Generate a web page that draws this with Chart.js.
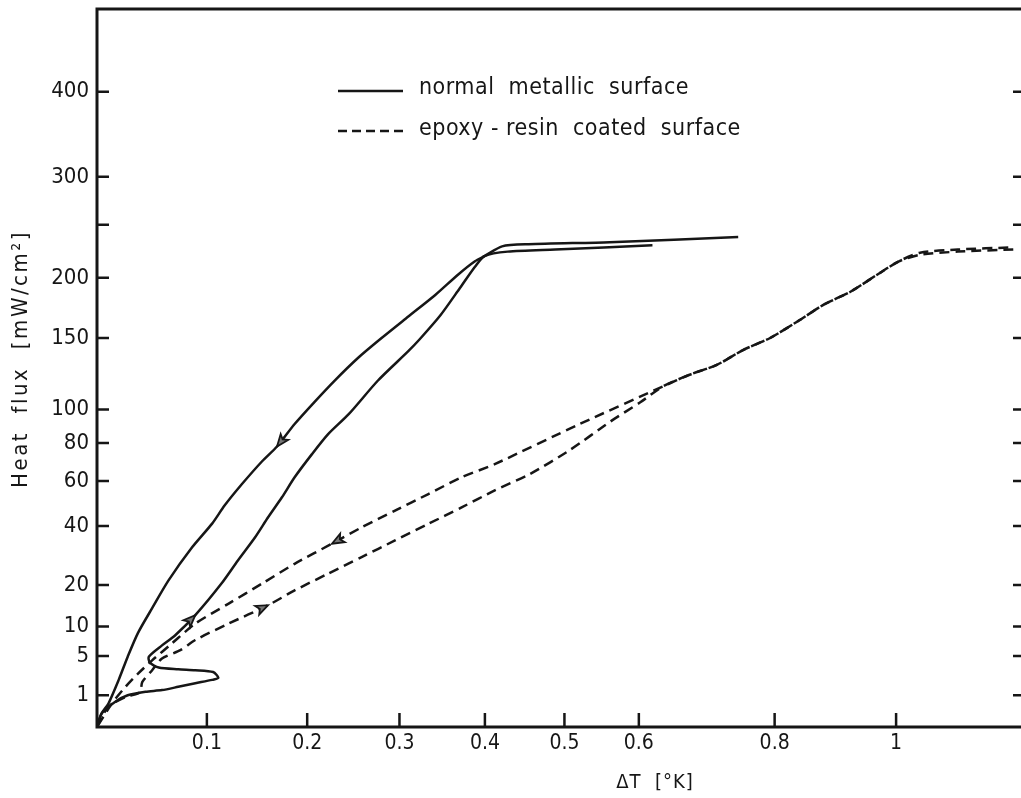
<!DOCTYPE html>
<html lang="en">
<head>
  <meta charset="UTF-8">
  <title>Heat flux vs Delta T</title>
  <style>
    body {
      margin: 0;
      background: #fff;
    }
    .wrap {
      position: relative;
      width: 1021px;
      height: 798px;
    }
  </style>
</head>
<body>
  <div class="wrap"><canvas id="chart"></canvas></div>

  <script src="https://cdn.jsdelivr.net/npm/chart.js"></script>
  <script>
    // Axis ticks
    const xTickValues = [0.1, 0.2, 0.3, 0.4, 0.5, 0.6, 0.8, 1];
    const xTickLabels = ['0.1', '0.2', '0.3', '0.4', '0.5', '0.6', '0.8', '1'];
    const yTickValues = [1, 5, 10, 20, 40, 60, 80, 100, 150, 200, 250, 300, 400];
    const yTickLabels = ['1', '5', '10', '20', '40', '60', '80', '100', '150', '200', '', '300', '400'];

    // normal metallic surface, decreasing heat flux (from right end back to origin)
    const metalCoolX = [0.744, 0.56, 0.454, 0.421, 0.400, 0.388, 0.368, 0.341, 0.310, 0.280, 0.254, 0.229, 0.208, 0.187,
      0.169, 0.154, 0.134, 0.117, 0.105, 0.086, 0.064, 0.049, 0.036, 0.027, 0.019, 0.010, 0.004, 0];
    const metalCoolY = [238, 233, 231, 229, 220, 215, 203, 185, 167, 150, 135, 119, 105, 91,
      78, 70, 58.5, 48.6, 41, 32, 21.3, 14, 8.7, 4.9, 2.2, 0.55, 0.18, 0];

    // normal metallic surface, increasing heat flux
    const metalHeatX = [0, 0.004, 0.016, 0.027, 0.043, 0.058, 0.073, 0.089, 0.105, 0.111, 0.106, 0.089, 0.073, 0.055,
      0.047, 0.046, 0.058, 0.070, 0.089, 0.114, 0.130, 0.147, 0.160, 0.174, 0.187, 0.205, 0.222, 0.244, 0.276,
      0.310, 0.323, 0.347, 0.370, 0.388, 0.400, 0.428, 0.488, 0.619];
    const metalHeatY = [0, 0.18, 0.63, 1.0, 1.23, 1.35, 1.6, 1.9, 2.2, 2.4, 3.0, 3.2, 3.3, 3.5,
      4.1, 4.9, 6.6, 8.3, 12.4, 20.4, 27.5, 35.7, 43.6, 52.3, 61.8, 73.8, 85, 97, 119,
      140, 149, 168, 191, 210, 220, 224, 226, 230];

    // epoxy-resin coated surface, decreasing heat flux
    const epoxyCoolX = [1.214, 1.11, 1.042, 1.005, 0.968, 0.923, 0.879, 0.836, 0.793, 0.752, 0.712, 0.672, 0.634, 0.52,
      0.412, 0.372, 0.333, 0.295, 0.258, 0.226, 0.187, 0.154, 0.121, 0.089, 0.067, 0.049, 0.036, 0.025, 0.013, 0];
    const epoxyCoolY = [226, 224, 221, 215, 203, 188, 177, 163, 150, 141, 130, 123, 115, 91,
      68.5, 61.8, 53.8, 46.4, 39.5, 33.3, 26.4, 20.4, 15.1, 10.6, 6.9, 4.4, 2.8, 1.6, 0.55, 0];

    // epoxy-resin coated surface, increasing heat flux
    const epoxyHeatX = [0, 0.0096, 0.025, 0.038, 0.040, 0.049, 0.058, 0.075, 0.089, 0.121, 0.160, 0.187, 0.222, 0.258,
      0.295, 0.333, 0.372, 0.412, 0.456, 0.507, 0.561, 0.602, 0.634, 0.672, 0.712, 0.752, 0.793, 0.836, 0.879,
      0.923, 0.968, 1.005, 1.042, 1.11, 1.214];
    const epoxyHeatY = [0, 0.39, 0.89, 1.2, 2.0, 3.2, 4.65, 5.85, 7.5, 10.6, 14.7, 18.5, 23.3, 28.6,
      34.5, 40.9, 47.8, 55.5, 63.5, 76, 92.5, 104.5, 115, 123, 130, 141, 150, 163, 177,
      188, 203, 215, 223, 226, 228];

    // which point of which dataset carries a direction arrow
    const arrowAt = [[0, 14], [1, 18], [2, 19], [3, 10]];

    const INK = '#161616';
    const FONT = "'DejaVu Sans Condensed', 'DejaVu Sans', sans-serif";

    const zip = (xs, ys) => xs.map((x, i) => ({ x: x, y: ys[i] }));

    // x axis of the original is log(1 + dT), y axis is sqrt(q)
    class Log1pScale extends Chart.LinearScale {
      static id = 'log1p';
      _f(v) { return Math.log2(1 + v); }
      getPixelForValue(v) {
        const a = this._f(this.min), b = this._f(this.max);
        return this.getPixelForDecimal((this._f(v) - a) / (b - a));
      }
      getValueForPixel(p) {
        const a = this._f(this.min), b = this._f(this.max);
        return Math.pow(2, a + this.getDecimalForPixel(p) * (b - a)) - 1;
      }
    }
    class SqrtScale extends Chart.LinearScale {
      static id = 'sqrt';
      getPixelForValue(v) {
        const a = Math.sqrt(this.min), b = Math.sqrt(this.max);
        return this.getPixelForDecimal((Math.sqrt(Math.max(v, 0)) - a) / (b - a));
      }
      getValueForPixel(p) {
        const a = Math.sqrt(this.min), b = Math.sqrt(this.max);
        const s = a + this.getDecimalForPixel(p) * (b - a);
        return s * s;
      }
    }
    Chart.register(Log1pScale, SqrtScale);

    // frame, inward ticks, titles, legend and arrows
    const paperPlugin = {
      id: 'paper',
      afterDraw(chart) {
        const { ctx, chartArea: a, scales: { x, y } } = chart;
        const W = chart.width;
        ctx.save();
        ctx.strokeStyle = INK;
        ctx.fillStyle = INK;

        ctx.lineWidth = 3;
        ctx.beginPath();
        ctx.moveTo(W, a.top);
        ctx.lineTo(a.left, a.top);
        ctx.lineTo(a.left, a.bottom);
        ctx.lineTo(W, a.bottom);
        ctx.stroke();

        ctx.lineWidth = 2.5;
        ctx.beginPath();
        y.ticks.forEach(t => {
          const py = y.getPixelForValue(t.value);
          ctx.moveTo(a.left, py); ctx.lineTo(a.left + 12, py);
          ctx.moveTo(W, py); ctx.lineTo(W - 8, py);
        });
        x.ticks.forEach(t => {
          const px = x.getPixelForValue(t.value);
          ctx.moveTo(px, a.bottom); ctx.lineTo(px, a.bottom - 14);
        });
        ctx.stroke();

        // arrows
        arrowAt.forEach(([d, i]) => {
          const pts = chart.getDatasetMeta(d).data;
          const p = pts[i], q = pts[i - 1];
          const ang = Math.atan2(p.y - q.y, p.x - q.x);
          const len = 13, spread = 0.38;
          ctx.beginPath();
          ctx.moveTo(p.x, p.y);
          ctx.lineTo(p.x - len * Math.cos(ang - spread), p.y - len * Math.sin(ang - spread));
          ctx.lineTo(p.x - len * 0.7 * Math.cos(ang), p.y - len * 0.7 * Math.sin(ang));
          ctx.lineTo(p.x - len * Math.cos(ang + spread), p.y - len * Math.sin(ang + spread));
          ctx.closePath();
          ctx.fillStyle = '#777';
          ctx.fill();
          ctx.lineWidth = 1.8;
          ctx.stroke();
        });
        ctx.fillStyle = INK;

        // legend
        ctx.lineWidth = 2.5;
        ctx.beginPath();
        ctx.moveTo(338, 91); ctx.lineTo(403, 91);
        ctx.stroke();
        ctx.setLineDash([9, 5]);
        ctx.beginPath();
        ctx.moveTo(338, 131); ctx.lineTo(403, 131);
        ctx.stroke();
        ctx.setLineDash([]);
        ctx.font = '23px ' + FONT;
        ctx.textBaseline = 'middle';
        ctx.textAlign = 'left';
        ctx.letterSpacing = '0.5px';
        ctx.fillText('normal  metallic  surface', 419, 88);
        ctx.fillText('epoxy - resin  coated  surface', 419, 129);

        // axis titles
        ctx.font = '20px ' + FONT;
        ctx.letterSpacing = '1px';
        ctx.textAlign = 'center';
        ctx.fillText('\u0394T  [\u00b0K]', 655, 783);
        ctx.font = '22px ' + FONT;
        ctx.letterSpacing = '2.5px';
        ctx.translate(21, 359);
        ctx.rotate(-Math.PI / 2);
        ctx.fillText('Heat  flux  [mW/cm\u00b2]', 0, 0);
        ctx.restore();
      }
    };

    const line = (data, dashed) => ({
      data: data,
      showLine: true,
      borderColor: INK,
      borderWidth: 2.5,
      borderDash: dashed ? [10, 6] : [],
      pointRadius: 0,
      tension: 0.25,
      fill: false
    });

    new Chart(document.getElementById('chart'), {
      type: 'scatter',
      data: {
        datasets: [
          line(zip(metalCoolX, metalCoolY), false),
          line(zip(metalHeatX, metalHeatY), false),
          line(zip(epoxyCoolX, epoxyCoolY), true),
          line(zip(epoxyHeatX, epoxyHeatY), true)
        ]
      },
      options: {
        responsive: true,
        maintainAspectRatio: false,
        animation: false,
        layout: { padding: { top: 9, right: 2, left: 0, bottom: 0 } },
        plugins: {
          legend: { display: false },
          tooltip: { enabled: false }
        },
        scales: {
          x: {
            type: 'log1p',
            min: 0,
            max: 1.225,
            grid: { display: false, drawTicks: false },
            border: { display: false },
            ticks: {
              autoSkip: false,
              maxRotation: 0,
              padding: 4,
              color: INK,
              font: { family: FONT, size: 21 },
              callback: v => xTickLabels[xTickValues.indexOf(v)]
            },
            afterBuildTicks: s => { s.ticks = xTickValues.map(v => ({ value: v })); },
            afterFit: s => { s.height = 71; s.paddingLeft = 0; s.paddingRight = 0; }
          },
          y: {
            type: 'sqrt',
            min: 0,
            max: 511,
            grid: { display: false, drawTicks: false },
            border: { display: false },
            ticks: {
              autoSkip: false,
              padding: 8,
              color: INK,
              font: { family: FONT, size: 22 },
              callback: v => yTickLabels[yTickValues.indexOf(v)]
            },
            afterBuildTicks: s => { s.ticks = yTickValues.map(v => ({ value: v })); },
            afterFit: s => { s.width = 97; s.paddingTop = 0; s.paddingBottom = 0; }
          }
        }
      },
      plugins: [paperPlugin]
    });
  </script>
</body>
</html>
